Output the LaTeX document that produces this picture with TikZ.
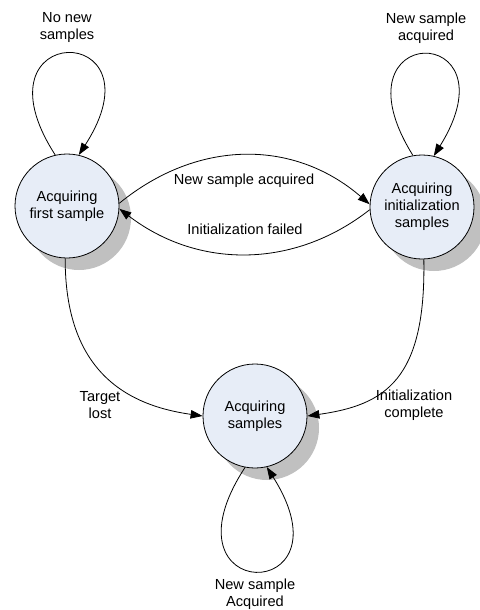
\documentclass[tikz,border=0pt]{standalone}
\usepackage{fontspec}
\setmainfont{Liberation Sans}
\usetikzlibrary{arrows.meta,shadows}
\definecolor{statefill}{RGB}{231,237,247}
\definecolor{shadowgray}{RGB}{192,192,192}
\begin{document}
\begin{tikzpicture}[x=1pt,y=-1pt,
  txt/.style={font=\fontsize{14.6}{17}\selectfont, align=center, inner sep=0pt},
  state/.style={txt, circle, draw=black, line width=0.8pt, fill=statefill,
    minimum size=104pt,
    drop shadow={shadow xshift=12pt, shadow yshift=-12pt, fill=shadowgray, opacity=1}},
  trans/.style={line width=0.8pt, -{Triangle[length=12pt,width=8.5pt]}}]
\useasboundingbox (0,0) rectangle (479,610);

% states
\node[state] (first) at (67,206) {Acquiring\\first sample};
\node[state] (init)  at (422,207) {Acquiring\\initialization\\samples};
\node[state] (acq)   at (255,416) {Acquiring\\samples};

% self loops
\draw[trans] (first.103) .. controls +(-87,-135) and +(87,-135) .. (first.77);
\draw[trans] (init.100) .. controls +(-84,-135) and +(84,-135) .. (init.77);
\draw[trans] (acq.259) .. controls +(-90,138) and +(88,139) .. (acq.283);

% transitions between states
\draw[trans] (first.3) .. controls (198,139) and (294,139) .. (init.177);
\draw[trans] (init.183) .. controls (294,269) and (198,269) .. (first.-3);
\draw[trans] (first.-92) .. controls (65,370) and (125,405) .. (acq.180);
\draw[trans] (init.-88) .. controls (426,380) and (385,405) .. (acq.0);

% labels
\node[txt] (l1) at (67,27) {No new\\samples};
\node[txt] (l2) at (426,28) {New sample\\acquired};
\node[txt] (l3) at (255,594) {New sample\\Acquired};
\node[txt] (l4) at (244,181) {New sample acquired};
\node[txt] (l5) at (245,229) {Initialization failed};
\node[txt] (l6) at (100,405) {Target\\lost};
\node[txt] (l7) at (414,405) {Initialization\\complete};
\end{tikzpicture}
\end{document}
